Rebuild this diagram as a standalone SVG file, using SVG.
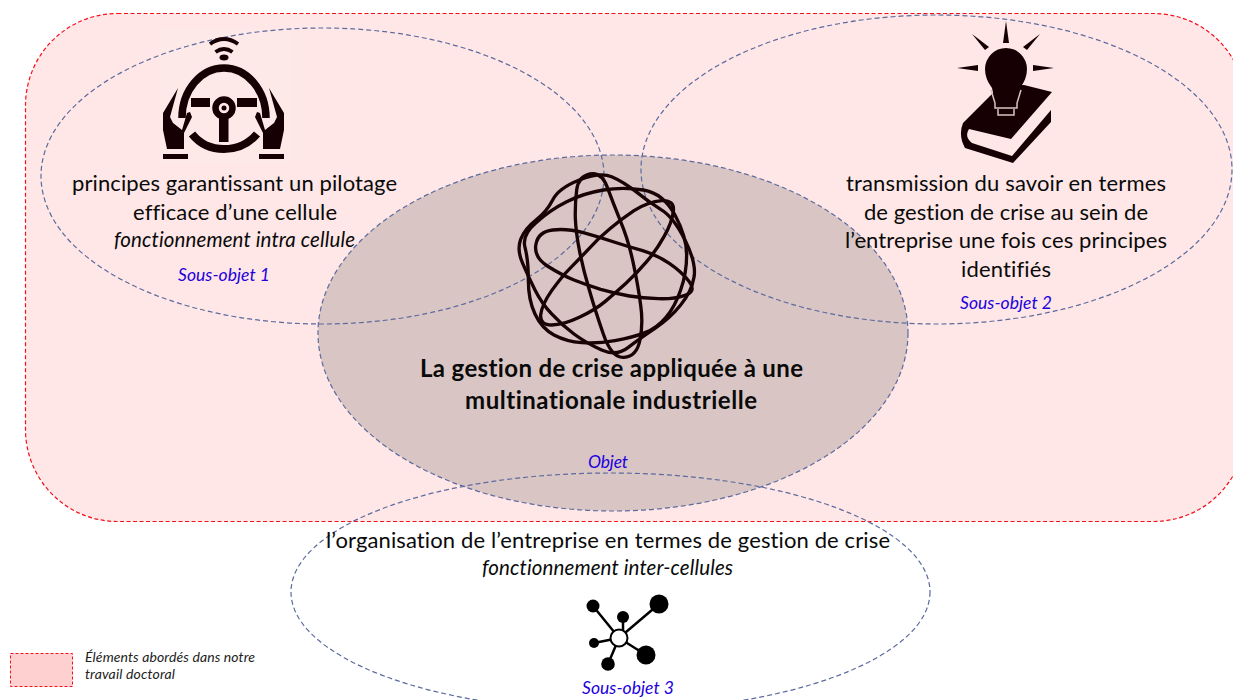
<svg xmlns="http://www.w3.org/2000/svg" width="1233" height="700" viewBox="0 0 1233 700">
<style>
text{font-family:Lato,"Open Sans","Liberation Sans",sans-serif;fill:#0a0a0a;font-variant-ligatures:none}
.m{font-size:22px;text-anchor:middle}
.h{font-size:24px;font-weight:700;text-anchor:middle}
.i{font-style:italic;font-size:20.500px;text-anchor:middle}
.b{font-size:17.500px;font-style:italic;text-anchor:middle;fill:#2200dd}
.l{font-size:14px;font-style:italic;fill:#222}
.e{fill:none;stroke:#5d6a9e;stroke-width:1.200;stroke-dasharray:5 3}
.k{fill:#170003}
.w{fill:none;stroke:#170003}
.o{fill:none;stroke:#1a0305;stroke-width:10}
.n{stroke:#000;stroke-width:2.500}
.g{fill:none;stroke:#d9c3c0;stroke-width:1.500}
</style>
<rect width="1233" height="700" fill="#fff"/>
<g id="perimetre"><rect x="25.500" y="13.500" width="1220" height="508" rx="92" fill="#fee7e6" stroke="#f5101c" stroke-width="1.200" stroke-dasharray="4 2.500"/></g>
<g id="objet-fond">
<ellipse cx="613" cy="333" rx="295" ry="178" fill="#d9c6c4"/>
<rect x="160" y="30" width="130" height="132" fill="#fde9e8"/>
</g>
<g id="connectors">
<ellipse class="e" cx="322.500" cy="176" rx="281.500" ry="148"/>
<ellipse class="e" cx="936.500" cy="169.500" rx="295.500" ry="154.500"/>
<ellipse class="e" cx="613" cy="333" rx="295" ry="178"/>
<ellipse class="e" cx="610.500" cy="592" rx="319.500" ry="119"/>
</g>
<g id="sous-objet-1">
<path class="w" stroke-width="3.800" d="M210 44Q224 34 238 44"/>
<path class="w" stroke-width="3.800" d="M215.500 52Q224 46 232.500 52"/>
<ellipse class="k" cx="224" cy="57.500" rx="4.500" ry="3"/>
<path class="w" stroke-width="7.500" d="M182 118A42 50 0 0 1 266 118"/>
<path class="w" stroke-width="8" d="M192 134Q204 149 224 149Q244 149 257 134"/>
<g class="k">
<rect x="191" y="98" width="19" height="9"/><rect x="237" y="98" width="20" height="9"/>
<path d="M219 115H228.500V142H219Z"/>
<path d="M178 88L163 113V130L167 149H184V133L192 117L190 112L187 113L182 130L173 123L170 117Z"/>
<path d="M269 88L284 113V130L280 149H263V133L255 117L257 112L260 113L265 130L274 123L277 117Z"/>
<rect x="163" y="154" width="25" height="5"/><rect x="259" y="154" width="25" height="5"/>
</g>
<circle cx="224" cy="108" r="8.500" fill="none" stroke="#170003" stroke-width="6.500"/>
<circle class="k" cx="224" cy="108" r="2.500"/>
<text class="m" x="234.500" y="191" textLength="325">principes garantissant un pilotage</text>
<text class="m" x="235" y="220" textLength="204">efficace d’une cellule</text>
<text class="i" x="234.500" y="247" textLength="241">fonctionnement intra cellule</text>
<text class="b" x="224" y="281" textLength="92">Sous-objet 1</text>
</g>
<g id="sous-objet-2">
<g class="k">
<path d="M1006 21L1009 43H1003Z"/><path d="M972 34L989 47L985 50Z"/><path d="M1040 34L1027 50L1023 47Z"/>
<path d="M957 68L978 65V71Z"/><path d="M1054 68L1033 65V71Z"/>
<path d="M1052 92L1024 85H1001L963 123Q958 135 965 148L1013 163L1051 122V110L1012 156L972 143Q964 137 969 129L1011 139Z"/>
<path d="M992 88Q985 79 985 69A21 21 0 0 1 1027 69Q1027 79 1020 88L1017 102H995Z"/>
<rect x="995" y="102" width="22" height="7" rx="2"/>
<rect x="998" y="109" width="16" height="6" rx="2"/>
</g>
<path class="g" d="M991 90L995 103V108H1017V103L1021 90M998 109V115H1014V109"/>
<text class="m" x="1006" y="191" textLength="320">transmission du savoir en termes</text>
<text class="m" x="1006" y="220" textLength="284">de gestion de crise au sein de</text>
<text class="m" x="1006" y="248" textLength="322">l’entreprise une fois ces principes</text>
<text class="m" x="1006" y="277" textLength="90">identifiés</text>
<text class="b" x="1006" y="309" textLength="92">Sous-objet 2</text>
</g>
<g id="objet">
<g class="o" transform="translate(500 160) scale(.3333)">
<path d="M270 42Q235 50 230 90Q225 130 226 175Q228 220 239 275Q250 330 268 390Q285 450 310 522Q335 595 372 592Q410 590 420 540Q430 490 422 435Q415 380 400 310Q385 240 362 185Q340 130 322 82Q305 35 270 42Z"/>
<path d="M520 155Q525 120 485 122Q445 125 402 152Q360 180 328 208Q295 235 265 268Q235 300 210 325Q185 350 155 392Q125 435 122 465Q120 495 155 495Q190 495 238 472Q285 450 315 425Q345 400 378 370Q410 340 440 305Q470 270 492 230Q515 190 520 155Z"/>
<path d="M142 318Q100 290 108 252Q115 215 158 210Q200 205 250 218Q300 232 342 246Q385 260 428 272Q470 285 508 310Q545 335 568 365Q590 395 555 406Q520 418 475 416Q430 415 388 408Q345 400 302 388Q260 375 222 360Q185 345 142 318Z"/>
<path d="M75 262Q65 225 108 188Q150 150 200 125Q250 100 310 90Q370 80 430 90Q490 100 525 165Q560 230 560 285Q560 340 542 390Q525 440 498 472Q470 505 435 518Q400 532 345 542Q290 552 245 548Q200 545 162 525Q125 505 105 462Q85 420 85 360Q85 300 75 262Z"/>
<path d="M108 180Q140 155 158 120Q175 85 238 60Q300 35 335 50Q370 65 408 95Q445 125 482 148Q520 170 555 240Q590 310 582 352Q575 395 542 435Q510 475 465 505Q420 535 385 562Q350 590 305 570Q260 550 222 522Q185 495 155 462Q125 430 105 390Q85 350 68 310Q50 270 62 238Q75 205 108 180Z"/>
</g>
<text class="h" x="611.500" y="377" textLength="383">La gestion de crise appliquée à une</text>
<text class="h" x="611" y="409" textLength="292">multinationale industrielle</text>
<text class="b" x="608" y="468" textLength="40">Objet</text>
</g>
<g id="sous-objet-3">
<text class="m" x="608" y="548" textLength="564">l’organisation de l’entreprise en termes de gestion de crise</text>
<text class="i" x="607.500" y="575" textLength="251">fonctionnement inter-cellules</text>
<path class="n" d="M593 606L619 638M659 604L619 638M623 617V638M594 643L619 638M646 655L619 638M608 664L619 638"/>
<circle cx="593" cy="606" r="6.500"/><circle cx="659" cy="604" r="9.500"/><circle cx="623" cy="617" r="6"/><circle cx="594" cy="643" r="5"/><circle cx="646" cy="655" r="9.500"/><circle cx="608" cy="664" r="6.800"/>
<circle cx="619" cy="638" r="8.500" fill="#fff" stroke="#000" stroke-width="2"/>
<text class="b" x="628" y="694" textLength="92">Sous-objet 3</text>
</g>
<g id="legende">
<rect x="10.500" y="653.500" width="62" height="33" fill="#ffd0d0" stroke="#f5101c" stroke-dasharray="3 2"/>
<text class="l" x="85" y="662" textLength="170">Éléments abordés dans notre</text>
<text class="l" x="85" y="679" textLength="90">travail doctoral</text>
</g>
</svg>
